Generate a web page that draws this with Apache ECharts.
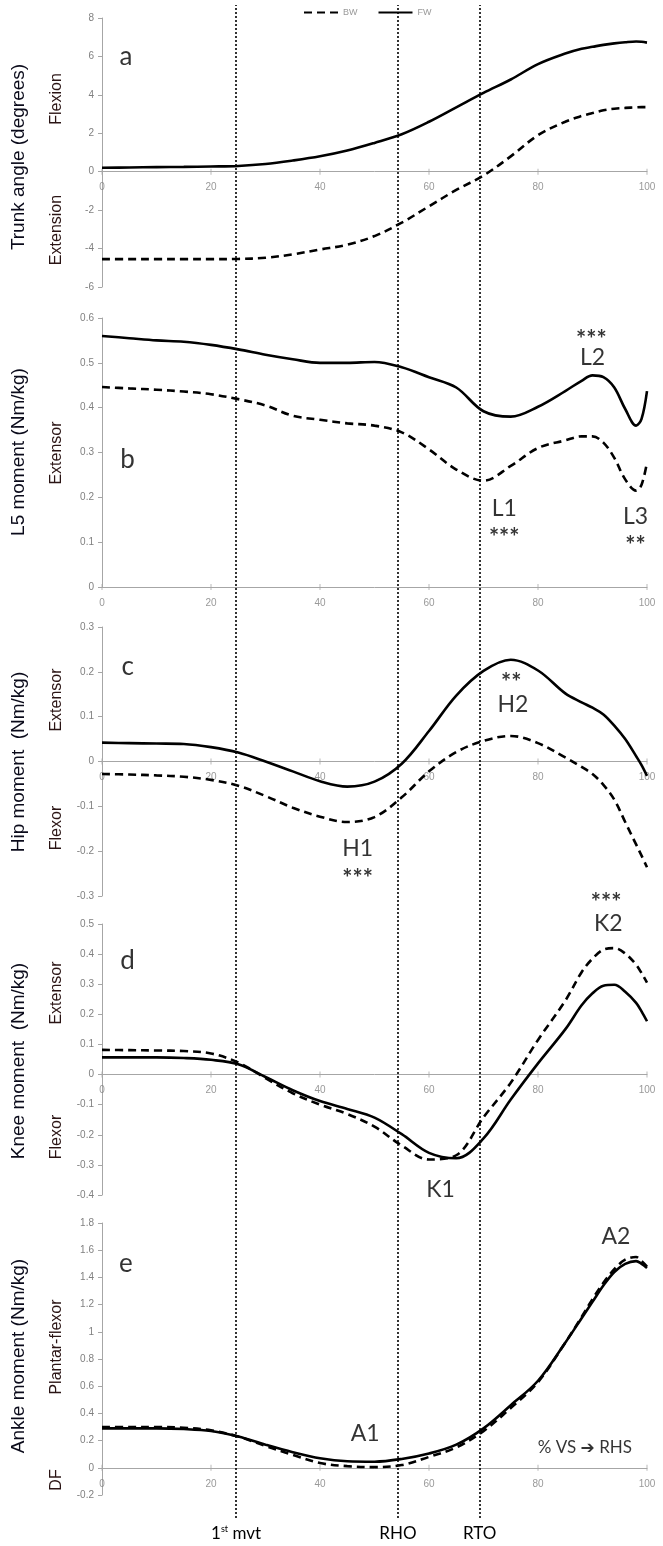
<!DOCTYPE html>
<html><head><meta charset="utf-8">
<script src="https://cdn.jsdelivr.net/npm/echarts@6/dist/echarts.min.js"></script>
<style>html,body{margin:0;padding:0;background:#fff}#c{width:663px;height:1546px}</style>
</head><body><div id="c"></div>
<script>
// ---------------- DATA ----------------
const pct = [0,5,10,15,20,25,30,35,40,45,50,55,60,65,70,75,80,85,88,90,92,94,96,98,99,100];
const xTicks = [0,20,40,60,80,100];

const trunkFW = [0.21,0.22,0.24,0.25,0.27,0.30,0.40,0.58,0.80,1.10,1.50,1.95,2.60,3.35,4.10,4.80,5.60,6.15,6.40,6.50,6.60,6.68,6.74,6.78,6.76,6.72];
const trunkBW = [-4.55,-4.55,-4.55,-4.55,-4.55,-4.54,-4.48,-4.30,-4.05,-3.80,-3.35,-2.65,-1.80,-0.95,-0.20,0.80,1.90,2.60,2.90,3.05,3.20,3.28,3.32,3.35,3.36,3.36];

const l5FW = [0.560,0.555,0.550,0.547,0.540,0.530,0.518,0.508,0.500,0.500,0.502,0.490,0.468,0.445,0.392,0.380,0.402,0.437,0.460,0.472,0.468,0.445,0.397,0.360,0.375,0.437];
const l5BW = [0.446,0.443,0.440,0.436,0.430,0.419,0.405,0.382,0.373,0.365,0.360,0.345,0.307,0.262,0.237,0.270,0.310,0.327,0.336,0.336,0.322,0.288,0.240,0.215,0.228,0.278];

const hipFW = [0.042,0.041,0.040,0.039,0.032,0.020,0.000,-0.022,-0.044,-0.056,-0.045,-0.005,0.068,0.147,0.202,0.227,0.203,0.152,0.132,0.120,0.105,0.080,0.050,0.012,-0.008,-0.032];
const hipBW = [-0.028,-0.029,-0.031,-0.034,-0.041,-0.054,-0.077,-0.103,-0.123,-0.135,-0.124,-0.080,-0.022,0.021,0.046,0.057,0.041,0.009,-0.012,-0.028,-0.052,-0.085,-0.135,-0.185,-0.210,-0.236];

const kneeFW = [0.057,0.057,0.057,0.055,0.049,0.034,-0.008,-0.052,-0.088,-0.114,-0.143,-0.198,-0.260,-0.278,-0.212,-0.083,0.037,0.150,0.230,0.270,0.295,0.298,0.275,0.238,0.210,0.177];
const kneeBW = [0.082,0.081,0.080,0.078,0.070,0.040,-0.012,-0.062,-0.100,-0.131,-0.173,-0.236,-0.282,-0.268,-0.142,-0.027,0.115,0.245,0.340,0.385,0.415,0.420,0.402,0.365,0.337,0.305];

const ankleFW = [0.29,0.29,0.29,0.285,0.27,0.23,0.17,0.115,0.07,0.048,0.045,0.065,0.105,0.17,0.29,0.46,0.64,0.92,1.10,1.22,1.34,1.44,1.50,1.52,1.50,1.47];
const ankleBW = [0.30,0.30,0.30,0.295,0.275,0.23,0.16,0.095,0.035,0.012,0.005,0.02,0.08,0.15,0.27,0.44,0.63,0.92,1.11,1.24,1.36,1.46,1.53,1.55,1.52,1.48];

const seriesNames = ['BW','FW'];
const eventPct = [24.6, 54.3, 69.3];
const eventLabels = ['1st mvt','RHO','RTO'];

const yMin = [-6, 0, -0.3, -0.4, -0.2];
const yMax = [8, 0.6, 0.3, 0.5, 1.8];
const yStep = [2, 0.1, 0.1, 0.1, 0.2];

const axisTitles = ['Trunk angle (degrees)','L5 moment (Nm/kg)','Hip moment  (Nm/kg)','Knee moment  (Nm/kg)','Ankle moment (Nm/kg)'];

// ---------------- LAYOUT ----------------
const W = 663, H = 1546;
const gridLeft = 102, gridWidth = 545;
const gridTop = [18, 318, 627, 924, 1223];
const gridBottom = [287, 587, 896, 1195, 1495];
const titleCenterY = [157, 452, 762, 1061, 1356];
const sideLabels = [
  [['Flexion', 99], ['Extension', 230]],
  [['Extensor', 453]],
  [['Extensor', 700], ['Flexor', 828]],
  [['Extensor', 993], ['Flexor', 1137]],
  [['Plantar-flexor', 1347], ['DF', 1480]]
];
const annotations = [
  [['a',4.4,6.0]],
  [['b',4.7,0.285],['L1',73.8,0.174],['***',73.8,0.122],['L2',90.0,0.511],['***',89.8,0.564],['L3',97.9,0.156],['**',97.9,0.104]],
  [['c',4.7,0.211],['H1',46.9,-0.195],['***',46.9,-0.25],['H2',75.4,0.127],['**',75.1,0.187]],
  [['d',4.7,0.378],['K1',62.1,-0.381],['K2',92.9,0.503],['***',92.5,0.59]],
  [['e',4.4,1.5],['A1',48.3,0.25],['A2',94.3,1.70],['% VS \u2794 RHS',88.6,0.147]]
];
const fwSets = [trunkFW, l5FW, hipFW, kneeFW, ankleFW];
const bwSets = [trunkBW, l5BW, hipBW, kneeBW, ankleBW];

const tickColor = '#808080', axisColor = '#a6a6a6';
const sans = '"Liberation Sans", Arial, sans-serif';
const cal = 'Lato, "DejaVu Sans", sans-serif';

const grids = [], xAxes = [], yAxes = [], series = [], graphics = [];
const fmt = v => String(+(+v).toFixed(2));

for (let i = 0; i < 5; i++) {
  const h = gridBottom[i] - gridTop[i];
  grids.push({left: gridLeft, width: gridWidth, top: gridTop[i], height: h});
  xAxes.push({
    gridIndex: i, type: 'value', min: 0, max: 100, interval: 20,
    axisLine: {onZero: true, lineStyle: {color: axisColor, width: 1}},
    axisTick: {show: false},
    axisLabel: {show: false},
    splitLine: {show: false}
  });
  yAxes.push({
    gridIndex: i, type: 'value', min: yMin[i], max: yMax[i], interval: yStep[i],
    axisLine: {show: true, onZero: false, lineStyle: {color: axisColor, width: 1}},
    axisTick: {show: true, length: 4, lineStyle: {color: axisColor}},
    axisLabel: {color: tickColor, fontSize: 10, fontFamily: sans, margin: 8, formatter: fmt},
    splitLine: {show: false}
  });
  // x tick marks + tick labels on the zero line (Excel style)
  series.push({
    type: 'scatter', name: 'xt' + i, xAxisIndex: i, yAxisIndex: i, silent: true, clip: false,
    symbol: 'rect', symbolSize: [1, 6], itemStyle: {color: axisColor},
    data: xTicks.map(x => [x, 0]),
    label: {show: true, position: 'bottom', distance: 8, color: tickColor, fontSize: 10, fontFamily: sans,
      formatter: p => String(p.value[0])},
    z: 2
  });
  series.push({
    type: 'line', name: 'BW', xAxisIndex: i, yAxisIndex: i,
    data: pct.map((x, j) => [x, bwSets[i][j]]),
    smooth: 0.35, showSymbol: false, symbol: 'none',
    lineStyle: {color: '#000', width: 2.6, type: [8, 5]}, itemStyle: {color: '#000'}, z: 3
  });
  series.push({
    type: 'line', name: 'FW', xAxisIndex: i, yAxisIndex: i,
    data: pct.map((x, j) => [x, fwSets[i][j]]),
    smooth: 0.35, showSymbol: false, symbol: 'none',
    lineStyle: {color: '#000', width: 2.6}, itemStyle: {color: '#000'}, z: 3
  });
  series.push({
    type: 'scatter', name: 'ann' + i, xAxisIndex: i, yAxisIndex: i, clip: false, silent: true,
    symbolSize: 1, itemStyle: {color: 'rgba(0,0,0,0)'},
    data: annotations[i].map(a => {
      const star = a[0].startsWith('*');
      const single = a[0].length === 1 && !star;
      const small = a[0].startsWith('%');
      return {
        value: [a[1], a[2]],
        label: {
          show: true, position: 'inside', formatter: a[0], color: '#000',
          fontFamily: cal,
          fontSize: star ? 24 : (single ? 26 : (small ? 17 : 23)),
          fontWeight: star ? 'bold' : 'normal',
          offset: star ? [0, 6] : [0, 0]
        }
      };
    })
  });
  graphics.push({
    type: 'text', x: 19, y: titleCenterY[i], rotation: Math.PI / 2,
    style: {text: axisTitles[i], fill: '#0a0a1a', font: '19px ' + sans, textAlign: 'center', textVerticalAlign: 'middle'}
  });
  sideLabels[i].forEach(s => {
    graphics.push({
      type: 'text', x: 57, y: s[1], rotation: Math.PI / 2,
      style: {text: s[0], fill: '#2a1414', font: '16px ' + sans, textAlign: 'center', textVerticalAlign: 'middle'}
    });
  });
}

// overlay grid for event lines
grids.push({left: gridLeft, width: gridWidth, top: 5, height: 1513});
xAxes.push({gridIndex: 5, type: 'value', min: 0, max: 100, show: false});
yAxes.push({gridIndex: 5, type: 'value', min: 0, max: 1, show: false});
series.push({
  type: 'line', name: 'events', xAxisIndex: 5, yAxisIndex: 5, data: [], silent: true,
  markLine: {
    silent: true, symbol: ['none', 'none'], animation: false,
    lineStyle: {color: '#000', type: [2, 2], width: 1.6},
    label: {show: true, position: 'start', distance: 7, color: '#000', fontFamily: cal, fontSize: 17},
    data: eventPct.map((v, k) => ({
      xAxis: v,
      label: {
        formatter: k === 0 ? '{n|1}{s|st}{n| mvt}' : eventLabels[k],
        rich: {n: {fontSize: 17, fontFamily: cal, color: '#000'}, s: {fontSize: 9, fontFamily: cal, color: '#000', verticalAlign: 'top', padding: [0, 0, 8, 0]}}
      }
    }))
  }
});

const chart = echarts.init(document.getElementById('c'), null, {renderer: 'canvas', width: W, height: H});
chart.setOption({
  animation: false,
  backgroundColor: '#fff',
  legend: {
    data: seriesNames, top: 3, left: 298, itemWidth: 34, itemHeight: 8, itemGap: 20,
    itemStyle: {opacity: 0},
    textStyle: {color: '#999', fontSize: 9, fontFamily: sans},
    selectedMode: false
  },
  grid: grids, xAxis: xAxes, yAxis: yAxes, series: series, graphic: graphics
});
</script></body></html>
